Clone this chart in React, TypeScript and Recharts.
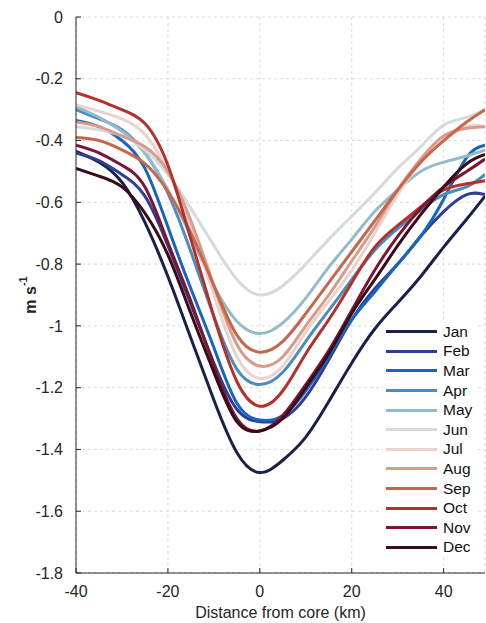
import { LineChart, Line, XAxis, YAxis, CartesianGrid, Legend, Label } from 'recharts';

// distance from core (km)
const distance = [-40, -35, -30, -25, -20, -15, -10, -5, 0, 5, 10, 15, 20, 25, 30, 35, 40, 45, 49];

// monthly mean velocity (m s-1)
const jan = [-0.435, -0.47, -0.535, -0.665, -0.84, -1.04, -1.24, -1.41, -1.475, -1.435, -1.36, -1.245, -1.12, -1.01, -0.925, -0.84, -0.745, -0.655, -0.58];
const feb = [-0.44, -0.465, -0.51, -0.58, -0.74, -0.93, -1.12, -1.27, -1.31, -1.3, -1.23, -1.11, -0.98, -0.88, -0.8, -0.71, -0.63, -0.575, -0.575];
const mar = [-0.335, -0.355, -0.4, -0.49, -0.68, -0.88, -1.07, -1.25, -1.305, -1.29, -1.21, -1.1, -0.98, -0.89, -0.8, -0.71, -0.59, -0.455, -0.415];
const apr = [-0.3, -0.33, -0.365, -0.44, -0.57, -0.76, -0.97, -1.14, -1.19, -1.15, -1.05, -0.95, -0.85, -0.755, -0.685, -0.625, -0.575, -0.55, -0.51];
const may = [-0.29, -0.325, -0.37, -0.44, -0.56, -0.71, -0.87, -0.985, -1.025, -0.99, -0.91, -0.81, -0.72, -0.63, -0.56, -0.5, -0.47, -0.45, -0.43];
const jun = [-0.355, -0.365, -0.385, -0.43, -0.51, -0.62, -0.74, -0.85, -0.9, -0.87, -0.8, -0.72, -0.645, -0.57, -0.49, -0.42, -0.35, -0.325, -0.3];
const jul = [-0.285, -0.305, -0.33, -0.38, -0.5, -0.68, -0.9, -1.1, -1.17, -1.13, -1.02, -0.92, -0.82, -0.7, -0.575, -0.47, -0.4, -0.355, -0.355];
const aug = [-0.34, -0.355, -0.385, -0.42, -0.5, -0.66, -0.87, -1.06, -1.13, -1.1, -1.0, -0.9, -0.79, -0.68, -0.56, -0.46, -0.385, -0.36, -0.355];
const sep = [-0.39, -0.4, -0.43, -0.475, -0.565, -0.7, -0.87, -1.03, -1.085, -1.05, -0.96, -0.86, -0.76, -0.66, -0.56, -0.47, -0.4, -0.34, -0.3];
const oct = [-0.245, -0.27, -0.3, -0.345, -0.48, -0.72, -0.97, -1.18, -1.26, -1.21, -1.09, -0.98, -0.86, -0.745, -0.675, -0.615, -0.56, -0.54, -0.53];
const nov = [-0.415, -0.44, -0.48, -0.55, -0.73, -0.92, -1.13, -1.3, -1.34, -1.29, -1.19, -1.08, -0.95, -0.82, -0.71, -0.62, -0.55, -0.5, -0.46];
const dec = [-0.49, -0.515, -0.55, -0.635, -0.77, -0.96, -1.15, -1.31, -1.34, -1.3, -1.2, -1.09, -0.96, -0.85, -0.74, -0.64, -0.55, -0.475, -0.445];

const months = ['Jan', 'Feb', 'Mar', 'Apr', 'May', 'Jun', 'Jul', 'Aug', 'Sep', 'Oct', 'Nov', 'Dec'];
const monthValues = [jan, feb, mar, apr, may, jun, jul, aug, sep, oct, nov, dec];
const colors = ['#1b1f4b', '#2e3e98', '#1666c1', '#4a8dbf', '#93bcc9', '#d3dbdf', '#ead3ce', '#d99a8a', '#c8664c', '#b5302a', '#7c1533', '#3d0b18'];

const xTicks = [-40, -20, 0, 20, 40];
const yTicks = [0, -0.2, -0.4, -0.6, -0.8, -1, -1.2, -1.4, -1.6, -1.8];

const data = distance.map((x, i) => {
  const row: Record<string, number> = { x };
  months.forEach((m, j) => {
    row[m] = monthValues[j][i];
  });
  return row;
});

const font = '"Liberation Sans", Arial, Helvetica, sans-serif';
const axisColor = '#262626';

// keep month order (recharts sorts legend items by name otherwise)
const renderLegend = () => (
  <div style={{ background: '#fff', fontFamily: font }}>
    {months.map((m, j) => (
      <div key={m} style={{ display: 'flex', alignItems: 'center', height: 19.6 }}>
        <span style={{ display: 'inline-block', width: 51, height: 3, background: colors[j], marginLeft: 3, marginRight: 6 }} />
        <span style={{ fontSize: 15.5, color: '#111' }}>{m}</span>
      </div>
    ))}
  </div>
);

const YLabel = (props: any) => {
  const { viewBox } = props;
  const cy = viewBox.y + viewBox.height / 2;
  const cx = 30;
  return (
    <text
      x={cx}
      y={cy}
      transform={`rotate(-90, ${cx}, ${cy})`}
      textAnchor="middle"
      dominantBaseline="central"
      fontFamily={font}
      fontSize={16}
      fontWeight="bold"
      fill={axisColor}
    >
      <tspan>m s</tspan>
      <tspan dy={-7} fontSize={11}>-1</tspan>
    </text>
  );
};

const XLabel = (props: any) => {
  const { viewBox } = props;
  const cx = viewBox.x + viewBox.width / 2;
  return (
    <text x={cx} y={618} textAnchor="middle" fontFamily={font} fontSize={16} fill={axisColor}>
      Distance from core (km)
    </text>
  );
};

export default function App() {
  return (
    <div style={{ position: 'absolute', left: 0, top: 0, background: '#fff' }}>
      <LineChart width={486} height={623} data={data} margin={{ top: 17, right: 1, left: 0, bottom: 0 }}>
        <CartesianGrid strokeDasharray="3 3" stroke="#dcdcdc" />
        <XAxis
          dataKey="x"
          type="number"
          domain={[-40, 49]}
          ticks={xTicks}
          allowDataOverflow
          height={50}
          stroke={axisColor}
          tickSize={-5}
          tickMargin={18}
          tick={{ fill: axisColor, fontSize: 16, fontFamily: font }}
        >
          <Label content={XLabel} />
        </XAxis>
        <YAxis
          type="number"
          domain={[-1.8, 0]}
          ticks={yTicks}
          allowDataOverflow
          width={76}
          stroke={axisColor}
          tickSize={-5}
          tickMargin={18}
          tick={{ fill: axisColor, fontSize: 16, fontFamily: font }}
          tickFormatter={(v: number) => String(Math.round(v * 10) / 10)}
        >
          <Label content={YLabel} />
        </YAxis>
        {months.map((m, j) => (
          <Line
            key={m}
            type="natural"
            dataKey={m}
            stroke={colors[j]}
            strokeWidth={3}
            dot={false}
            isAnimationActive={false}
          />
        ))}
        <Legend
          layout="vertical"
          align="center"
          verticalAlign="middle"
          content={renderLegend}
          wrapperStyle={{ left: 383, top: 322, width: 94, height: 236 }}
        />
      </LineChart>
    </div>
  );
}
